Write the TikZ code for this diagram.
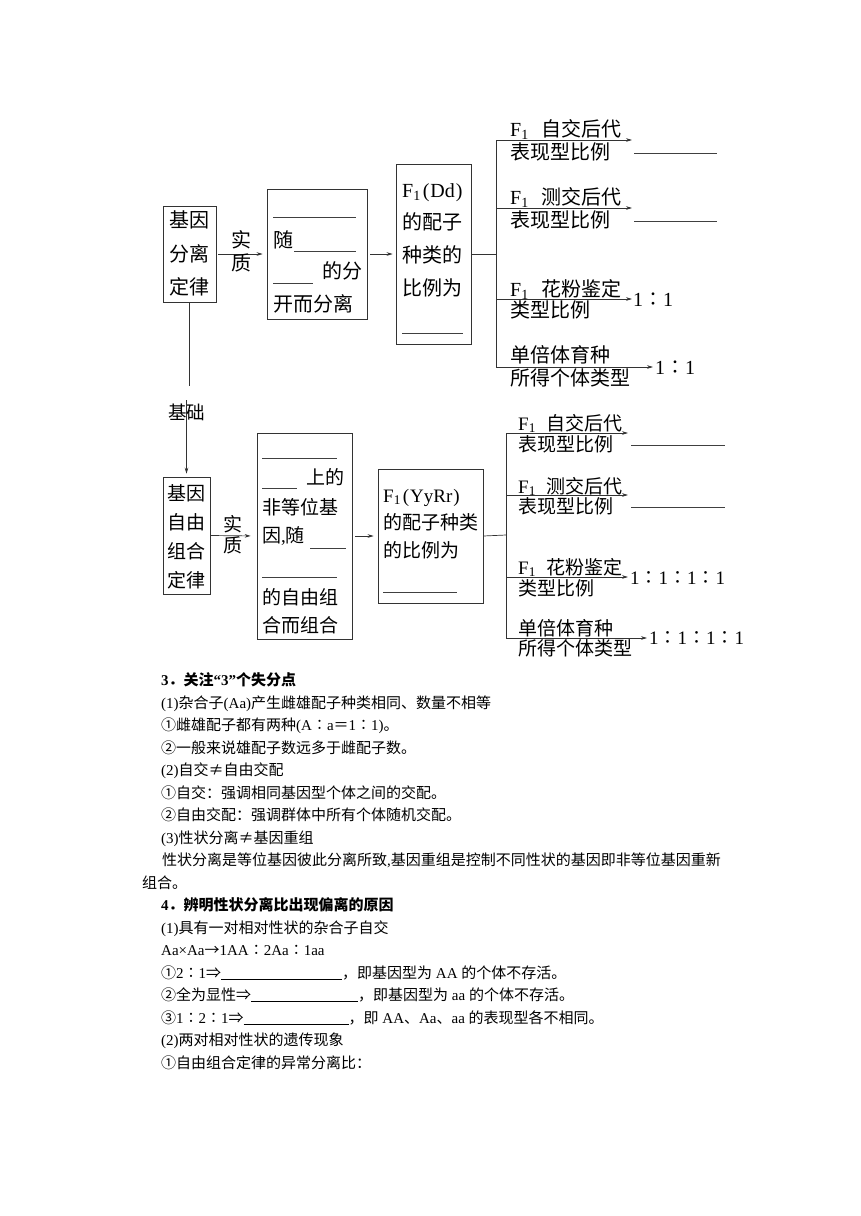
\documentclass[tikz,border=0pt]{standalone}
\usepackage{fontspec}
\usepackage{graphicx}
\setmainfont{Liberation Serif}
\newfontfamily\cjk{Noto Sans CJK SC}
\usetikzlibrary{arrows.meta}
\XeTeXinterchartokenstate=1
\chardef\CJKcls=10
\makeatletter
\def\setclsrange#1#2#3{\count@=#1\relax\loop\XeTeXcharclass\count@=#3\relax\ifnum\count@<#2\relax\advance\count@\@ne\repeat}
\makeatother
\setclsrange{0}{"FFFF}{0}
\setclsrange{"4E00}{"9FFF}{\CJKcls}
\setclsrange{"3000}{"303F}{\CJKcls}
\setclsrange{"FF00}{"FFEF}{\CJKcls}
\setclsrange{"2460}{"2473}{\CJKcls}
\setclsrange{"2190}{"21FF}{\CJKcls}
\XeTeXcharclass"2260=\CJKcls
\XeTeXcharclass"2236=\CJKcls
\XeTeXinterchartoks 0 \CJKcls = {\cjk}
\XeTeXinterchartoks 4095 \CJKcls = {\cjk}
\XeTeXinterchartoks \CJKcls 0 = {\rmfamily}
\XeTeXinterchartoks \CJKcls 4095 = {\rmfamily}
\tikzset{
  box/.style={draw=black!80, line width=0.7pt, inner sep=0pt},
  ln/.style={draw=black!80, line width=0.7pt},
  arr/.style={ln, -{Stealth[length=6pt,width=3.6pt]}},
  bl/.style={draw=black!75, line width=0.6pt},
  ta/.style={anchor=base west, inner sep=0pt, font=\fontsize{20}{24}\selectfont},
  tac/.style={anchor=base, inner sep=0pt, font=\fontsize{20}{24}\selectfont},
  tb/.style={anchor=base west, inner sep=0pt, font=\fontsize{19}{23}\selectfont},
  tbc/.style={anchor=base, inner sep=0pt, font=\fontsize{19}{23}\selectfont},
  tt/.style={anchor=base west, inner sep=0pt, font=\fontsize{15}{18}\selectfont},
  th/.style={anchor=base west, inner sep=0pt, font=\fontsize{15}{18}\selectfont\bfseries},
}
\begin{document}
\begin{tikzpicture}[x=1pt,y=-1pt]
\fill[white] (0,0) rectangle (860,1216);
\useasboundingbox (0,0) rectangle (860,1216);

% ===== top diagram =====
\node[box, minimum width=53pt, minimum height=96pt] (b1) at (189.5,254) {};
\node[box, minimum width=100pt, minimum height=130pt] (b2) at (317,254) {};
\node[box, minimum width=75pt, minimum height=180pt] (b3) at (433.5,254) {};

\node[tac] (b1t1) at (189.5,227.6) {基因};
\node[tac] (b1t2) at (189.5,261.6) {分离};
\node[tac] (b1t3) at (189.5,294.6) {定律};

\draw[arr, shorten <=2pt, shorten >=4pt] (b1.east) -- (b2.west);
\node[tac] (sz1) at (241,247.6) {实};
\node[tac] (sz2) at (241,270.6) {质};

\draw[bl] (273,217) -- (356,217);
\node[ta] (b2t1) at (273,247) {随};
\draw[bl] (294,251) -- (356,251);
\node[ta] (b2t2) at (322,278.6) {的分};
\draw[bl] (273,283) -- (313,283);
\node[ta] (b2t3) at (273,311.6) {开而分离};

\draw[arr, shorten <=3pt, shorten >=3pt] (b2.east) -- (b3.west);

\node[ta] (b3t1) at (402,197) {F\textsubscript{1}\hspace{2pt}(\hspace{1pt}Dd\hspace{1pt})};
\node[ta] (b3t2) at (402,229.6) {的配子};
\node[ta] (b3t3) at (402,262.6) {种类的};
\node[ta] (b3t4) at (402,295.6) {比例为};
\draw[bl] (402,333) -- (463,333);

\coordinate (j1) at (496,254);
\coordinate (ta1) at (496,140);
\coordinate (ta2) at (496,208);
\coordinate (ta3) at (496,299);
\coordinate (ta4) at (496,367);
\coordinate (ea1) at (632,140);
\coordinate (ea2) at (632,208);
\coordinate (ea3) at (632,299);
\coordinate (ea4) at (653,367);
\draw[ln] (b3.east) -- (j1);
\draw[ln] (ta1) -- (ta4);
\draw[arr] (ta1) -- (ea1);
\draw[arr] (ta2) -- (ea2);
\draw[arr] (ta3) -- (ea3);
\draw[arr] (ta4) -- (ea4);

\node[ta] (la1) at (510,136.6) {F\textsubscript{1}\hspace{13pt}自交后代};
\node[ta] (la2) at (510,159.6) {表现型比例};
\draw[bl] (634,153) -- (717,153);
\node[ta] (la3) at (510,204) {F\textsubscript{1}\hspace{13pt}测交后代};
\node[ta] (la4) at (510,227.6) {表现型比例};
\draw[bl] (634,221) -- (717,221);
\node[ta] (la5) at (510,296) {F\textsubscript{1}\hspace{13pt}花粉鉴定};
\node[ta] (la6) at (510,317.6) {类型比例};
\node[ta] (ra1) at (633,306) {1∶1};
\node[ta] (la7) at (510,362.6) {单倍体育种};
\node[ta] (la8) at (510,385) {所得个体类型};
\node[ta] (ra2) at (655,374) {1∶1};

% ===== link =====
\node[box, minimum width=47pt, minimum height=117pt] (b4) at (186.5,535.5) {};
\coordinate (v1) at (189.5,386);
\coordinate (v2) at (186.5,400);
\draw[ln] (b1.south) -- (v1);
\draw[arr, shorten >=3pt] (v2) -- (b4.north);
\node[anchor=base, inner sep=0pt, font=\fontsize{18.5}{22}\selectfont] (jc) at (186.5,419) {基础};

% ===== bottom diagram =====
\node[box, minimum width=95pt, minimum height=206pt] (b5) at (304.5,536) {};
\node[box, minimum width=105pt, minimum height=134pt] (b6) at (430.5,536) {};

\node[tbc] (b4t1) at (186.5,500) {基因};
\node[tbc] (b4t2) at (186.5,529) {自由};
\node[tbc] (b4t3) at (186.5,558) {组合};
\node[tbc] (b4t4) at (186.5,587) {定律};

\draw[arr, shorten >=6pt] (b4.east) -- (b5.west);
\node[tbc] (sz3) at (233,531) {实};
\node[tbc] (sz4) at (233,552) {质};

\draw[bl] (262,458) -- (337,458);
\draw[bl] (262,488) -- (297,488);
\node[tb] (b5t1) at (306,484) {上的};
\node[tb] (b5t2) at (262,514) {非等位基};
\node[tb] (b5t3) at (262,542) {因,随};
\draw[bl] (310,548) -- (346,548);
\draw[bl] (262,577) -- (337,577);
\node[tb] (b5t4) at (262,604) {的自由组};
\node[tb] (b5t5) at (262,632) {合而组合};

\draw[arr, shorten <=3pt, shorten >=4pt] (b5.east) -- (b6.west);

\node[tb] (b6t1) at (383,502) {F\textsubscript{1}\hspace{2pt}(\hspace{1pt}YyRr\hspace{1pt})};
\node[tb] (b6t2) at (383,529) {的配子种类};
\node[tb] (b6t3) at (383,557) {的比例为};
\draw[bl] (383,592) -- (457,592);

\coordinate (j2) at (506,535);
\coordinate (tb1) at (506,433);
\coordinate (tb2) at (506,495);
\coordinate (tb3) at (506,577);
\coordinate (tb4) at (506,638);
\coordinate (eb1) at (628,433);
\coordinate (eb2) at (628,495);
\coordinate (eb3) at (628,577);
\coordinate (eb4) at (647,638);
\draw[ln] (b6.east) -- (j2);
\draw[ln] (tb1) -- (tb4);
\draw[arr] (tb1) -- (eb1);
\draw[arr] (tb2) -- (eb2);
\draw[arr] (tb3) -- (eb3);
\draw[arr] (tb4) -- (eb4);

\node[tb] (lb1) at (518,430) {F\textsubscript{1}\hspace{11pt}自交后代};
\node[tb] (lb2) at (518,451) {表现型比例};
\draw[bl] (631,445) -- (725,445);
\node[tb] (lb3) at (518,493) {F\textsubscript{1}\hspace{11pt}测交后代};
\node[tb] (lb4) at (518,513) {表现型比例};
\draw[bl] (631,507) -- (725,507);
\node[tb] (lb5) at (518,574) {F\textsubscript{1}\hspace{11pt}花粉鉴定};
\node[tb] (lb6) at (518,595) {类型比例};
\node[tb] (rb1) at (630,584.5) {1∶1∶1∶1};
\node[tb] (lb7) at (518,635) {单倍体育种};
\node[tb] (lb8) at (518,655) {所得个体类型};
\node[tb] (rb2) at (649,644.5) {1∶1∶1∶1};

% ===== text =====
\node[th] (p1) at (161,685.7) {3．关注“3”个失分点};
\node[tt] (p2) at (161,708.2) {(1)杂合子(Aa)产生雌雄配子种类相同、数量不相等};
\node[tt] (p3) at (161,730.7) {①雌雄配子都有两种(A∶a＝1∶1)。};
\node[tt] (p4) at (161,753.2) {②一般来说雄配子数远多于雌配子数。};
\node[tt] (p5) at (161,775.7) {(2)自交≠自由交配};
\node[tt] (p6) at (161,798.2) {①自交：强调相同基因型个体之间的交配。};
\node[tt] (p7) at (161,820.7) {②自由交配：强调群体中所有个体随机交配。};
\node[tt] (p8) at (161,843.2) {(3)性状分离≠基因重组};
\node[tt] (p9) at (162,865.7) {性状分离是等位基因彼此分离所致,基因重组是控制不同性状的基因即非等位基因重新};
\node[tt] (p10) at (142,888.2) {组合。};
\node[th] (p11) at (161,910.7) {4．辨明性状分离比出现偏离的原因};
\node[tt] (p12) at (161,933.2) {(1)具有一对相对性状的杂合子自交};
\node[tt] (p13) at (161,955.7) {Aa×Aa→1AA∶2Aa∶1aa};
\node[tt] (p14) at (161,978.2) {①2∶1⇒\rule[-1pt]{121pt}{0.5pt}，即基因型为 AA 的个体不存活。};
\node[tt] (p15) at (161,1000.7) {②全为显性⇒\rule[-1pt]{107pt}{0.5pt}，即基因型为 aa 的个体不存活。};
\node[tt] (p16) at (161,1023.2) {③1∶2∶1⇒\rule[-1pt]{105pt}{0.5pt}，即 AA、Aa、aa 的表现型各不相同。};
\node[tt] (p17) at (161,1045.7) {(2)两对相对性状的遗传现象};
\node[tt] (p18) at (161,1068.2) {①自由组合定律的异常分离比：};
\end{tikzpicture}
\end{document}
